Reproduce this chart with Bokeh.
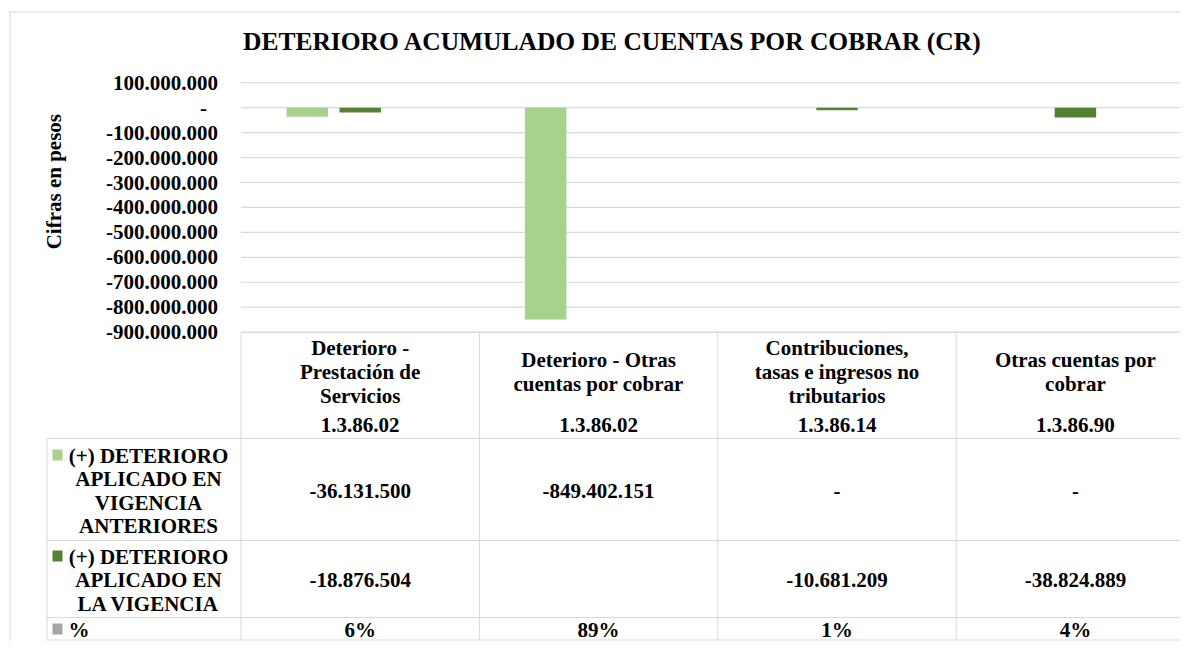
import math
from bokeh.plotting import figure
from bokeh.models import Range1d, ColumnDataSource
from bokeh.core.properties import value
from bokeh.embed import file_html
from bokeh.resources import INLINE

# ---------------- data ----------------
chart_title = "DETERIORO ACUMULADO DE CUENTAS POR COBRAR (CR)"
y_title = "Cifras  en pesos"
categories = [
    "Deterioro -\nPrestación de\nServicios",
    "Deterioro - Otras\ncuentas por cobrar",
    "Contribuciones,\ntasas e ingresos no\ntributarios",
    "Otras cuentas por\ncobrar",
]
codes = ["1.3.86.02", "1.3.86.02", "1.3.86.14", "1.3.86.90"]
series_names = [
    "(+) DETERIORO\nAPLICADO EN\nVIGENCIA\nANTERIORES",
    "(+) DETERIORO\nAPLICADO EN\nLA VIGENCIA",
    "%",
]
deterioro_anteriores = [-36131500, -849402151, 0, 0]
deterioro_vigencia = [-18876504, None, -10681209, -38824889]
porcentaje = [0.06, 0.89, 0.01, 0.04]
y_ticks = [100_000_000, 0, -100_000_000, -200_000_000, -300_000_000, -400_000_000,
           -500_000_000, -600_000_000, -700_000_000, -800_000_000, -900_000_000]
y_tick_labels = ["100.000.000", "-", "-100.000.000", "-200.000.000", "-300.000.000",
                 "-400.000.000", "-500.000.000", "-600.000.000", "-700.000.000",
                 "-800.000.000", "-900.000.000"]

# ---------------- styles / layout ----------------
LIGHT = "#a9d18e"
DARK = "#548235"
GRAY = "#a5a5a5"
LINE = "#d9d9d9"
FONT = value("Liberation Serif")

W, H = 1180, 641
CAT_X0, CAT_W = 240.5, 238.4               # category axis: start px, px per category
ZERO_Y, PER_PX = 107.2, 4.01e6             # value axis: zero line px, value per px

p = figure(width=W, height=H, output_backend="svg", toolbar_location=None,
           x_range=Range1d(0, W), y_range=Range1d(H, 0),
           x_axis_location=None, y_axis_location=None,
           min_border_left=0, min_border_right=0,
           min_border_top=0, min_border_bottom=0,
           outline_line_color=None, background_fill_color="white",
           border_fill_color="white")
p.xgrid.visible = False
p.ygrid.visible = False
p.extra_x_ranges = {"cat": Range1d((0 - CAT_X0) / CAT_W, (W - CAT_X0) / CAT_W)}
p.extra_y_ranges = {"val": Range1d(-(H - ZERO_Y) * PER_PX, ZERO_Y * PER_PX)}

n = len(categories)


def add_text(xs, ys, texts, size, align="center", xr="default", yr="default",
             angle=0.0, xo=None):
    src = ColumnDataSource(dict(x=xs, y=ys, text=texts,
                                xo=xo if xo is not None else [0] * len(xs)))
    p.text(x="x", y="y", text="text", x_offset="xo", source=src, text_font=FONT,
           text_font_style="bold", text_font_size=f"{size}px", text_align=align,
           text_baseline="middle", text_color="#000000", angle=angle,
           x_range_name=xr, y_range_name=yr)


# outer chart border (top & left)
p.segment(x0=[9, 9.5], y0=[11.5, 11], x1=[W, 9.5], y1=[11.5, H],
          line_color=LINE, line_width=1)

# title and axis title
add_text([612], [41], [chart_title], 25.5)
add_text([53], [178.5], [y_title], 21, angle=math.pi / 2)

# gridlines + tick labels
p.segment(x0=[0] * len(y_ticks), x1=[n] * len(y_ticks), y0=y_ticks, y1=y_ticks,
          line_color=LINE, line_width=1.2, x_range_name="cat", y_range_name="val")
add_text([0] * len(y_ticks), y_ticks, y_tick_labels, 21, align="right",
         xr="cat", yr="val", xo=[-34 if t == "-" else -23 for t in y_tick_labels])

# bars
offsets = [-0.222, 0.0, 0.222]
bar_w = 0.174
series_vals = [deterioro_anteriores, deterioro_vigencia, porcentaje]
series_cols = [LIGHT, DARK, GRAY]
for vals, off, col in zip(series_vals, offsets, series_cols):
    xs = [i + 0.5 + off for i, v in enumerate(vals) if v is not None]
    tops = [v for v in vals if v is not None]
    p.vbar(x=xs, top=tops, bottom=0, width=bar_w, fill_color=col, line_color=None,
           x_range_name="cat", y_range_name="val")

# ---------------- data table ----------------
TBL_TOP, HDR_BOT, R1_BOT, R2_BOT, TBL_BOT = 332, 438, 540, 617, 639.5
LEFT_X = 46
# horizontal lines
p.segment(x0=[0], x1=[n], y0=[TBL_TOP], y1=[TBL_TOP], line_color=LINE, line_width=1,
          x_range_name="cat")
hy = [HDR_BOT, R1_BOT, R2_BOT, TBL_BOT]
p.segment(x0=[LEFT_X] * 4, x1=[W] * 4, y0=hy, y1=hy, line_color=LINE, line_width=1)
# vertical lines
p.segment(x0=list(range(n + 1)), x1=list(range(n + 1)), y0=[TBL_TOP] * (n + 1),
          y1=[TBL_BOT] * (n + 1), line_color=LINE, line_width=1, x_range_name="cat")
p.segment(x0=[LEFT_X + 0.5], x1=[LEFT_X + 0.5], y0=[HDR_BOT], y1=[TBL_BOT],
          line_color=LINE, line_width=1)

# header: category names + codes
hx, hyv, ht = [], [], []
for i, cat in enumerate(categories):
    lines = cat.split("\n")
    for k, ln in enumerate(lines):
        hx.append(i + 0.5)
        hyv.append(371 + (k - (len(lines) - 1) / 2) * 24)
        ht.append(ln)
    hx.append(i + 0.5)
    hyv.append(424)
    ht.append(codes[i])
add_text(hx, hyv, ht, 21, xr="cat")


def fmt_num(v):
    if v is None:
        return ""
    if v == 0:
        return "-"
    return f"{v:,.0f}".replace(",", ".")


row_y = [490, 579, 629]
row_first = [455, 556, 629]
row_texts = [[fmt_num(v) for v in deterioro_anteriores],
             [fmt_num(v) for v in deterioro_vigencia],
             [f"{round(v * 100)}%" for v in porcentaje]]
vx, vy, vt = [], [], []
for r, texts in enumerate(row_texts):
    for i, t in enumerate(texts):
        vx.append(i + 0.5)
        vy.append(row_y[r])
        vt.append(t)
add_text(vx, vy, vt, 21, xr="cat")

# row labels with legend keys
p.rect(x=[57] * 3, y=[y - 0.5 for y in row_first], width=10, height=11,
       width_units="screen", height_units="screen", fill_color=series_cols,
       line_color=None)
cx, cy, ct = [], [], []
lx, ly, lt = [], [], []
for r, name in enumerate(series_names):
    lines = name.split("\n")
    for k, ln in enumerate(lines):
        if len(lines) > 1:
            cx.append(148); cy.append(row_first[r] + 23.5 * k); ct.append(ln)
        else:
            lx.append(68); ly.append(row_first[r] + 23.5 * k); lt.append(ln)
add_text(cx, cy, ct, 21)
add_text(lx, ly, lt, 21, align="left")

open("out.html", "w").write(file_html(p, INLINE))
